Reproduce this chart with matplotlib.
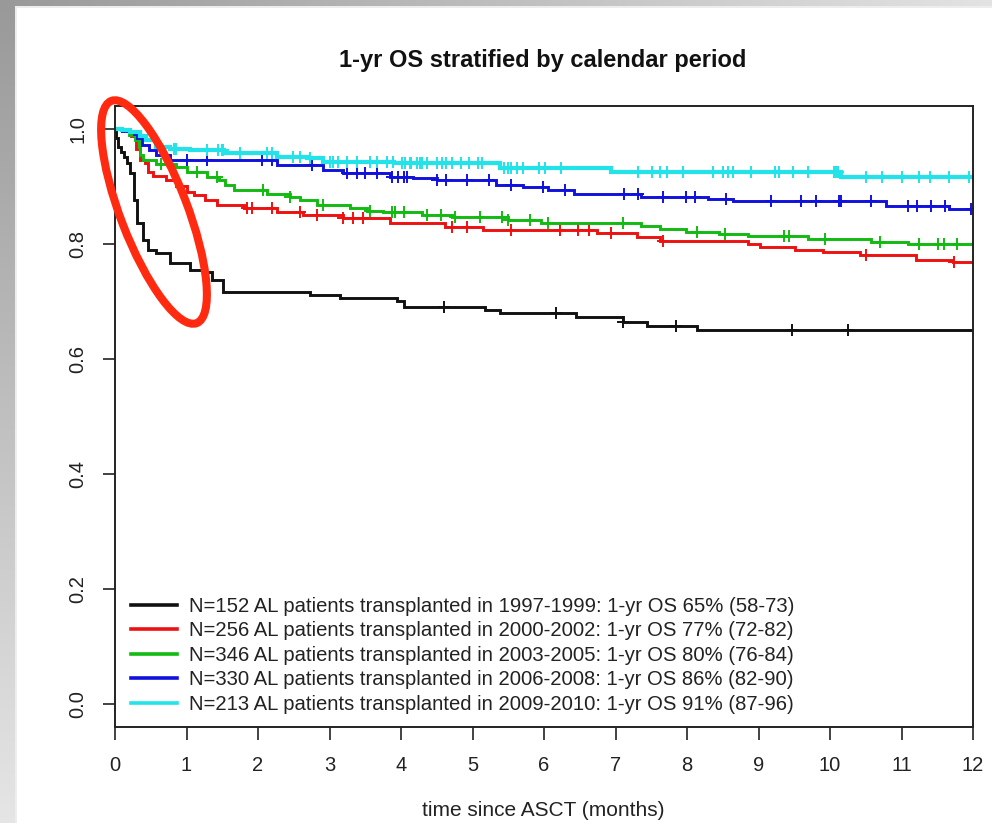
import numpy as np
import matplotlib
matplotlib.use("Agg")
import matplotlib.pyplot as plt
from matplotlib.patches import Ellipse
from matplotlib.transforms import IdentityTransform

plt.rcParams['font.family'] = ['Liberation Sans', 'DejaVu Sans']

# Kaplan-Meier step curves (time in months, survival)
black_t = [0, 0.02, 0.04, 0.08, 0.12, 0.17, 0.21, 0.26, 0.31, 0.39, 0.46, 0.58, 0.77,
           1.05, 1.23, 1.35, 1.51, 2.73, 3.15, 3.94, 4.04, 5.18, 5.39, 6.45, 7.10, 7.44, 8.14]
black_s = [1.0, 0.985, 0.969, 0.96, 0.952, 0.94, 0.923, 0.876, 0.836, 0.807, 0.789, 0.784, 0.766,
           0.755, 0.751, 0.737, 0.717, 0.711, 0.706, 0.700, 0.691, 0.685, 0.679, 0.672, 0.665, 0.658, 0.650]

red_t = [0, 0.1, 0.22, 0.30, 0.35, 0.42, 0.46, 0.53, 0.72, 0.86, 1.0, 1.1, 1.26, 1.42, 1.8,
         2.26, 2.63, 3.19, 3.85, 4.61, 5.15, 6.74, 7.30, 7.62, 8.86, 9.02, 9.51, 9.90, 10.42,
         11.20, 11.72]
red_s = [1.0, 0.996, 0.988, 0.965, 0.946, 0.940, 0.926, 0.918, 0.911, 0.900, 0.891, 0.885,
         0.876, 0.868, 0.862, 0.856, 0.850, 0.845, 0.836, 0.830, 0.824, 0.819, 0.812, 0.805,
         0.800, 0.795, 0.789, 0.786, 0.780, 0.772, 0.769]

green_t = [0, 0.1, 0.2, 0.28, 0.33, 0.35, 0.39, 0.58, 0.86, 1.0, 1.28, 1.45, 1.54, 1.66, 2.12,
           2.45, 2.59, 2.82, 3.29, 3.52, 3.75, 4.3, 4.71, 5.49, 5.96, 7.36, 7.62, 7.98, 8.45,
           8.86, 9.69, 10.57, 11.09]
green_s = [1.0, 0.997, 0.990, 0.980, 0.969, 0.955, 0.946, 0.939, 0.933, 0.926, 0.916, 0.911,
           0.903, 0.894, 0.887, 0.882, 0.876, 0.868, 0.862, 0.858, 0.856, 0.850, 0.846, 0.842,
           0.836, 0.831, 0.826, 0.821, 0.817, 0.813, 0.808, 0.804, 0.800]

blue_t = [0, 0.1, 0.2, 0.26, 0.31, 0.38, 0.47, 0.58, 0.77, 2.26, 2.91, 3.19, 3.85, 4.17, 4.5,
          5.33, 5.70, 6.06, 6.42, 7.36, 8.29, 8.65, 10.78, 11.66]
blue_s = [1.0, 0.997, 0.994, 0.992, 0.984, 0.972, 0.963, 0.955, 0.946, 0.937, 0.929, 0.923,
          0.917, 0.914, 0.911, 0.903, 0.899, 0.894, 0.887, 0.882, 0.879, 0.874, 0.866, 0.860]

cyan_t = [0, 0.1, 0.21, 0.35, 0.44, 0.58, 0.77, 1.05, 1.52, 2.26, 2.68, 2.91, 3.9, 5.39,
          6.94, 10.16]
cyan_s = [1.0, 0.998, 0.995, 0.987, 0.981, 0.969, 0.966, 0.963, 0.958, 0.952, 0.949, 0.943,
          0.940, 0.932, 0.926, 0.917]

# censoring marks (months)
black_cens = [4.6, 6.17, 7.11, 7.84, 9.47, 10.25]
red_cens = [1.84, 1.91, 2.19, 2.59, 2.82, 3.19, 3.33, 3.47, 4.71, 4.92, 5.54, 6.23, 6.48,
            6.63, 6.94, 7.66, 10.50, 11.74]
green_cens = [0.65, 1.14, 1.42, 2.07, 2.45, 2.91, 3.57, 3.87, 3.92, 4.04, 4.37, 4.56, 4.76,
              5.10, 5.41, 5.49, 5.80, 6.06, 7.10, 8.14, 8.53, 9.36, 9.43, 9.93, 10.70, 11.25,
              11.51, 11.59, 11.77]
blue_cens = [1.0, 1.28, 2.05, 2.19, 2.75, 3.24, 3.38, 3.5, 3.66, 3.87, 3.96, 4.04, 4.08, 4.5,
             4.63, 4.92, 5.23, 5.54, 5.98, 6.29, 7.12, 7.31, 7.67, 7.98, 8.11, 8.55, 9.17, 9.59,
             9.8, 10.13, 10.16, 10.57, 11.09, 11.22, 11.41, 11.61, 11.97]
cyan_cens = [0.82, 0.86, 1.28, 1.44, 1.49, 1.51, 1.75, 2.12, 2.19, 2.49, 2.59, 2.73, 3.01,
             3.05, 3.12, 3.24, 3.38, 3.57, 3.66, 3.8, 3.89, 4.01, 4.13, 4.27, 4.36, 4.06, 4.14,
             4.22, 4.30, 4.37, 4.50, 4.58, 4.63, 4.71, 4.84, 4.95, 5.08, 5.13, 5.44, 5.49, 5.54,
             5.62, 5.70, 5.93, 6.01, 6.24, 7.31, 7.51, 7.62, 7.72, 7.95, 8.37, 8.50, 8.58, 8.65,
             8.89, 9.23, 9.28, 9.48, 9.69, 10.05, 10.08, 10.11, 10.50, 10.73, 11.01, 11.25, 11.40,
             11.66, 11.95]

labels = [
    "N=152 AL patients transplanted in 1997-1999: 1-yr OS 65% (58-73)",
    "N=256 AL patients transplanted in 2000-2002: 1-yr OS 77% (72-82)",
    "N=346 AL patients transplanted in 2003-2005: 1-yr OS 80% (76-84)",
    "N=330 AL patients transplanted in 2006-2008: 1-yr OS 86% (82-90)",
    "N=213 AL patients transplanted in 2009-2010: 1-yr OS 91% (87-96)",
]
colors = ['#111111', '#ee1111', '#11bb11', '#1111dd', '#22e2ea']

groups = [(black_t, black_s, black_cens), (red_t, red_s, red_cens),
          (green_t, green_s, green_cens), (blue_t, blue_s, blue_cens),
          (cyan_t, cyan_s, cyan_cens)]

W, H = 992, 823
fig = plt.figure(figsize=(W / 100, H / 100), dpi=100)

# slide background: grey gradient strips on the left and top edges
bg = np.ones((H, W, 3))
left_shade = np.linspace(0.60, 0.90, H)
bg[:, :15, :] = left_shade[:, None, None]
top_shade = np.linspace(0.60, 0.89, W)
bg[:6, :, :] = top_shade[None, :, None]
bg[6:8, 15:, :] = 0.93
bg[6:, 15:17, :] = 0.93
bax = fig.add_axes([0, 0, 1, 1], zorder=-5)
bax.imshow(bg, aspect='auto', interpolation='bilinear')
bax.axis('off')

ax = fig.add_axes([115 / W, 1 - 726.7 / H, 858 / W, 620.7 / H])
ax.set_facecolor('none')

handles = []
for (t, s, cens), c, lab in zip(groups, colors, labels):
    t_full = list(t) + [12]
    s_full = list(s) + [s[-1]]
    lw = 3.0 if c == colors[-1] else 2.1
    line, = ax.step(t_full, s_full, where='post', color=c, lw=lw, label=lab,
                    solid_joinstyle='miter')
    idx = np.searchsorted(t, cens, side='right') - 1
    ax.plot(cens, np.array(s)[idx], ls='none', marker='+', color=c,
            markersize=9, markeredgewidth=1.4)
    handles.append(line)

ax.set_xlim(0, 12)
ax.set_ylim(-0.04, 1.04)
ax.set_xticks(range(13))
ax.set_yticks([0.0, 0.2, 0.4, 0.6, 0.8, 1.0])
ax.set_yticklabels(['0.0', '0.2', '0.4', '0.6', '0.8', '1.0'], rotation=90, va='center')
ax.tick_params(axis='both', length=9, width=1.2, color='#222222', labelsize=14.5,
               labelcolor='#222222')
ax.tick_params(axis='x', pad=12)
ax.tick_params(axis='y', pad=11)
for sp in ax.spines.values():
    sp.set_color('#222222')
    sp.set_linewidth(1.4)

leg = ax.legend(handles=handles, loc='lower left', bbox_to_anchor=(0.019, 0.021),
                frameon=False, fontsize=14.6, handlelength=2.25, handletextpad=0.6,
                labelspacing=0.27, borderpad=0, borderaxespad=0)
for txt in leg.get_texts():
    txt.set_color('#222222')
for ln in leg.get_lines():
    ln.set_linewidth(2.6)

fig.text(543 / W, 1 - 60 / H, "1-yr OS stratified by calendar period", ha='center',
         va='center', fontsize=17, fontweight='bold', color='#111111')
fig.text(543 / W, 1 - 811 / H, "time since ASCT (months)", ha='center', va='center',
         fontsize=15, color='#222222')

# red ellipse drawn on the slide around the early drop
ell = Ellipse((154, H - 212), width=238, height=67, angle=-69, fill=False,
              edgecolor='#ff2a0f', linewidth=5.8, transform=IdentityTransform(), zorder=10)
fig.add_artist(ell)

fig.savefig("out.png", dpi=100)
